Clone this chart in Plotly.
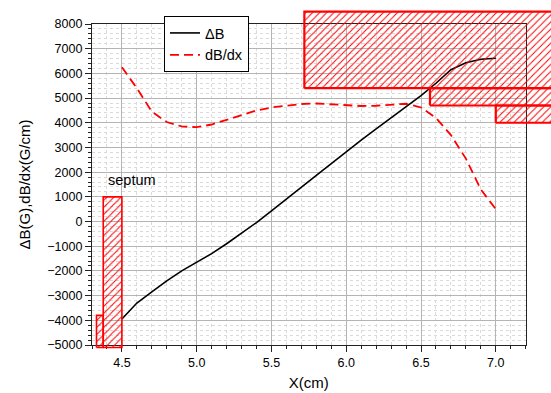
import plotly.graph_objects as go

# ---------------- data ----------------
x_vals = [4.5, 4.6, 4.7, 4.8, 4.9, 5.0, 5.1, 5.2, 5.3, 5.4, 5.5, 5.6, 5.7, 5.8, 5.9,
          6.0, 6.1, 6.2, 6.3, 6.4, 6.5, 6.6, 6.7, 6.8, 6.9, 7.0]
delta_b = [-3950, -3300, -2850, -2400, -2000, -1650, -1300, -900, -480, -40, 430, 900,
           1380, 1870, 2350, 2830, 3300, 3750, 4200, 4650, 5100, 5600, 6150, 6430, 6570, 6610]
db_dx = [6250, 5400, 4450, 4030, 3850, 3820, 3930, 4130, 4330, 4500, 4620, 4700, 4760,
         4780, 4750, 4700, 4680, 4690, 4730, 4770, 4620, 4200, 3500, 2550, 1300, 500]

# hatched regions: (x0, x1, y0, y1)
pole_regions = [(5.72, 7.6, 5400, 8500), (6.56, 7.6, 4700, 5400), (7.0, 7.6, 4000, 4700)]
septum_regions = [(4.375, 4.5, -5100, 1000), (4.33, 4.375, -5100, -3800)]

series_names = ["\u0394B", "dB/dx"]
x_title = "X(cm)"
y_title = "\u0394B(G),dB/dx(G/cm)"
septum_label = "septum"

# ---------------- layout geometry ----------------
W, H = 551, 393
X_RANGE = [4.3, 7.2]
Y_RANGE = [-5000, 8000]
xd = [92 / W, 525.7 / W]
yd = [1 - 345 / H, 1 - 24 / H]


def ext_range(r, d):
    spp = (r[1] - r[0]) / (d[1] - d[0])
    return [r[0] - d[0] * spp, r[1] + (1 - d[1]) * spp]


x2_range = ext_range(X_RANGE, xd)
y2_range = ext_range(Y_RANGE, yd)

FONT = "Liberation Sans, Arial, sans-serif"

fig = go.Figure()

fig.add_trace(go.Scatter(x=x_vals, y=delta_b, mode="lines", name=series_names[0],
                         line=dict(color="black", width=1.6), xaxis="x", yaxis="y"))
fig.add_trace(go.Scatter(x=x_vals, y=db_dx, mode="lines", name=series_names[1],
                         line=dict(color="#ff0000", width=1.8, dash="9px,5px"),
                         xaxis="x", yaxis="y"))


def add_box(x0, x1, y0, y1, lw):
    fig.add_trace(go.Scatter(
        x=[x0, x1, x1, x0, x0], y=[y0, y0, y1, y1, y0], mode="lines",
        fill="toself", fillcolor="rgba(0,0,0,0)",
        fillpattern=dict(shape="/", fgcolor="#ff0000", bgcolor="rgba(0,0,0,0)",
                         size=5, solidity=0.2, fgopacity=1),
        line=dict(color="#ff0000", width=lw), showlegend=False, hoverinfo="skip",
        xaxis="x2", yaxis="y2"))


for (a, b, c, d) in pole_regions:
    add_box(a, b, c, d, 2.2)
for (a, b, c, d) in septum_regions:
    add_box(a, b, c, d, 1.6)

axis_common = dict(
    showline=True, linecolor="#222222", linewidth=1.3, mirror=True,
    ticks="outside", ticklen=6, tickwidth=1, tickcolor="#222222",
    showgrid=True, gridcolor="#b4b4b4", gridwidth=1,
    zeroline=False, automargin=False,
    tickfont=dict(family=FONT, size=12.5, color="black"),
)

fig.update_layout(
    width=W, height=H,
    margin=dict(l=0, r=0, t=0, b=0),
    paper_bgcolor="white", plot_bgcolor="rgba(0,0,0,0)",
    font=dict(family=FONT, color="black"),
    xaxis=dict(**axis_common, domain=xd, range=X_RANGE, tick0=4.5, dtick=0.5,
               tickformat=".1f", anchor="y",
               minor=dict(dtick=0.1, tick0=4.5, ticks="outside", ticklen=3,
                          tickcolor="#222222", showgrid=True, gridcolor="#dadada",
                          griddash="dot", gridwidth=1),
               title=dict(text=x_title, font=dict(family=FONT, size=15), standoff=8)),
    yaxis=dict(**axis_common, domain=yd, range=Y_RANGE, tick0=0, dtick=1000,
               anchor="x",
               minor=dict(dtick=200, tick0=0, ticks="outside", ticklen=3,
                          tickcolor="#222222", showgrid=True, gridcolor="#dadada",
                          griddash="dot", gridwidth=1),
               title=dict(text=y_title, font=dict(family=FONT, size=15), standoff=12)),
    xaxis2=dict(domain=[0, 1], range=x2_range, visible=False, anchor="y2",
                showgrid=False, zeroline=False, automargin=False),
    yaxis2=dict(domain=[0, 1], range=y2_range, visible=False, anchor="x2",
                showgrid=False, zeroline=False, automargin=False),
    legend=dict(x=164 / W, y=1 - 16 / H, xanchor="left", yanchor="top",
                bgcolor="white", bordercolor="black", borderwidth=1,
                font=dict(family=FONT, size=14.5), tracegroupgap=0,
                itemwidth=30),
    showlegend=True,
)

fig.add_annotation(x=4.57, y=1700, xref="x", yref="y", text=septum_label,
                   showarrow=False, font=dict(family=FONT, size=14.5, color="black"))

fig.write_html("out.html", config={"displayModeBar": False},
               post_script="document.body.style.margin='0';document.body.style.padding='0';")
